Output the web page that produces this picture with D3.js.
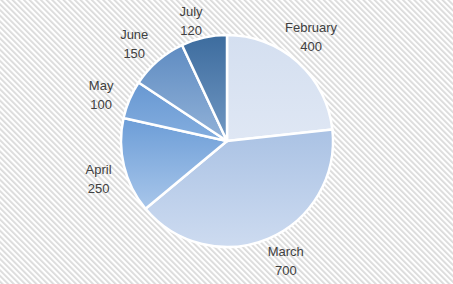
<!DOCTYPE html>
<html>
<head>
<meta charset="utf-8">
<script src="https://cdn.jsdelivr.net/npm/d3@7/dist/d3.min.js"></script>
<style>
  html, body { margin: 0; padding: 0; background: #fff; }
  svg { display: block; }
</style>
</head>
<body>
<svg id="chart" width="453" height="284"></svg>
<script>
// Monthly totals, drawn clockwise from 12 o'clock
const months = ["February", "March", "April", "May", "June", "July"];
const totals = [400, 700, 250, 100, 150, 120];
// Gradient colours per slice: [top, bottom]
const topColors = ["#d4dff0", "#aac2e4", "#6c9dd7", "#6898d2", "#5f8cc2", "#3d6c9e"];
const bottomColors = ["#dfe7f4", "#cddbf0", "#a8c6ea", "#84aedf", "#92b2d8", "#7198c3"];

const width = 453, height = 284;
const cx = 227, cy = 141, radius = 106;
const labelRadius = 134;            // distance of label blocks from the centre
const labelTurn = -3 * Math.PI / 180; // labels sit slightly counter-clockwise of mid-slice
const lineGap = 19;                 // distance between the two label lines
const fontSize = 13;

const svg = d3.select("#chart");
const defs = svg.append("defs");

// Diagonal hatched backdrop
const hatch = defs.append("pattern")
  .attr("id", "hatch")
  .attr("patternUnits", "userSpaceOnUse")
  .attr("width", 4).attr("height", 4)
  .attr("patternTransform", "rotate(-45)");
hatch.append("rect").attr("width", 4).attr("height", 4).attr("fill", "#ffffff");
hatch.append("rect").attr("width", 1.8).attr("height", 4).attr("fill", "#dadada");

svg.append("rect")
  .attr("width", width).attr("height", height)
  .attr("fill", "url(#hatch)");

months.forEach((m, i) => {
  const g = defs.append("linearGradient")
    .attr("id", "grad" + i)
    .attr("x1", 0).attr("y1", 0).attr("x2", 0).attr("y2", 1);
  g.append("stop").attr("offset", "0%").attr("stop-color", topColors[i]);
  g.append("stop").attr("offset", "100%").attr("stop-color", bottomColors[i]);
});

const data = months.map((m, i) => ({ month: m, value: totals[i], index: i }));

const pie = d3.pie().value(d => d.value).sort(null);
const arcs = pie(data);

const arc = d3.arc().innerRadius(0).outerRadius(radius);

const g = svg.append("g").attr("transform", `translate(${cx},${cy})`);

g.selectAll("path.slice")
  .data(arcs)
  .join("path")
  .attr("class", "slice")
  .attr("d", arc)
  .attr("fill", d => `url(#grad${d.data.index})`)
  .attr("stroke", "#ffffff")
  .attr("stroke-width", 2.5)
  .attr("stroke-linejoin", "round");

// Label block centre: outside the pie, kept within the canvas
const halfBlock = lineGap / 2 + fontSize * 0.55;
function labelPos(d) {
  const a = (d.startAngle + d.endAngle) / 2 + labelTurn;
  let x = labelRadius * Math.sin(a);
  let y = -labelRadius * Math.cos(a);
  const top = -cy + 4 + halfBlock;
  const bottom = height - cy - 4 - halfBlock;
  y = Math.max(top, Math.min(bottom, y));
  return [x, y];
}

const labels = g.selectAll("text.label")
  .data(arcs)
  .join("text")
  .attr("class", "label")
  .attr("transform", d => `translate(${labelPos(d)})`)
  .attr("text-anchor", "middle")
  .attr("font-family", "'Liberation Sans', Arial, sans-serif")
  .attr("font-size", fontSize)
  .attr("fill", "#404040");

labels.append("tspan")
  .attr("x", 0).attr("y", -lineGap / 2 + fontSize * 0.35)
  .text(d => d.data.month);
labels.append("tspan")
  .attr("x", 0).attr("y", lineGap / 2 + fontSize * 0.35)
  .text(d => d.data.value);
</script>
</body>
</html>
